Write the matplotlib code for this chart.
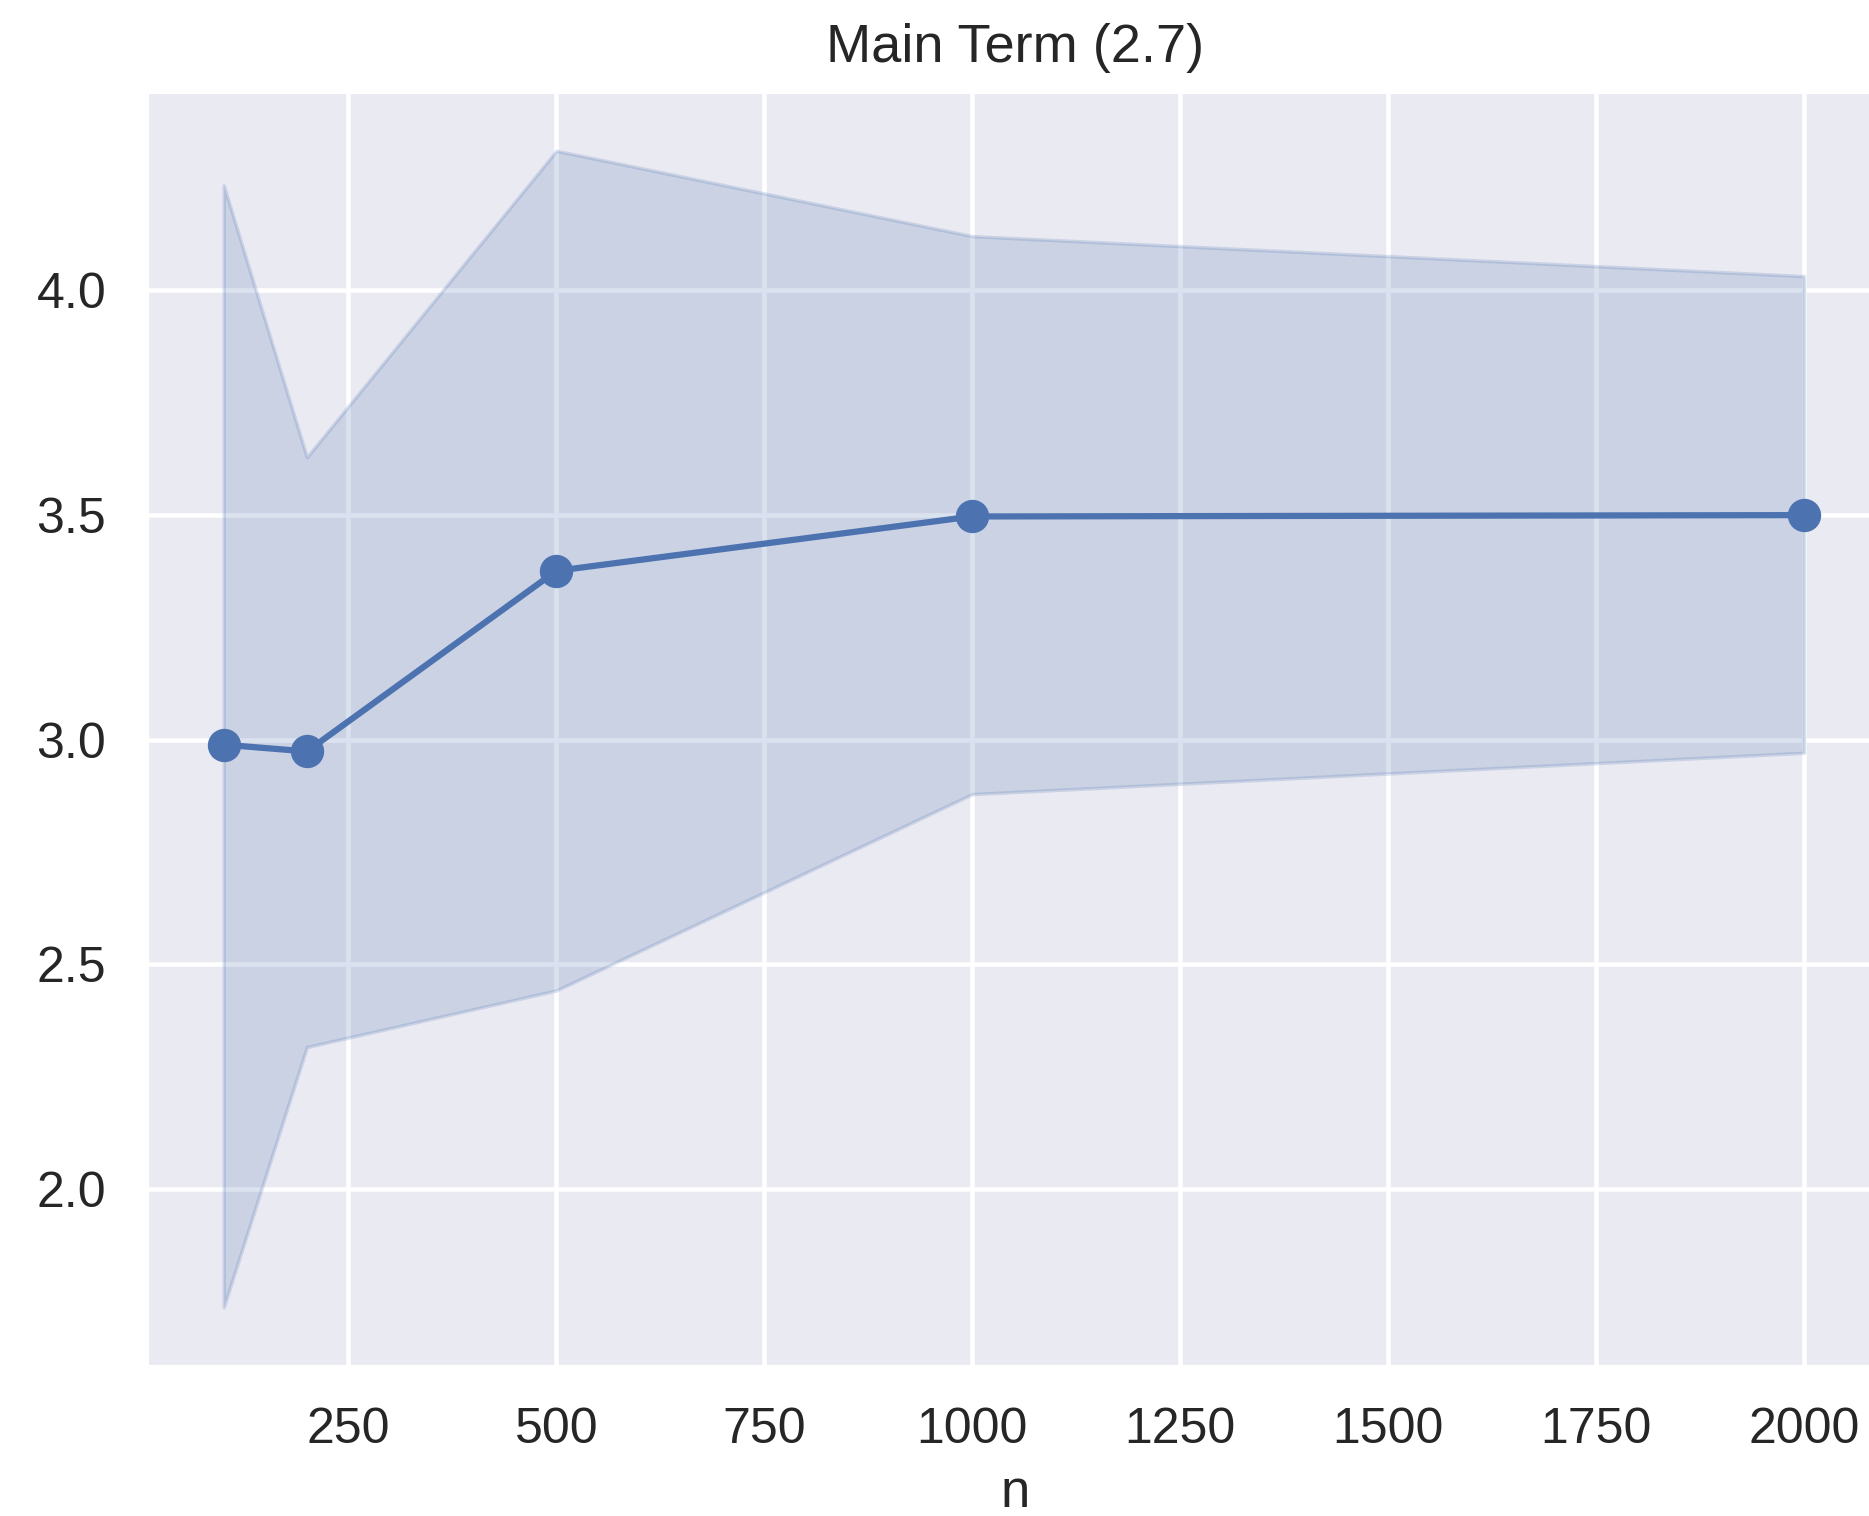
import numpy as np
import matplotlib
matplotlib.use("Agg")
import matplotlib.pyplot as plt
import seaborn as sns

# sample sizes and main-term estimates
n_values = [100, 200, 500, 1000, 2000]
mean_est = [2.989, 2.974, 3.376, 3.497, 3.500]
upper_est = [4.234, 3.629, 4.311, 4.121, 4.032]
lower_est = [1.737, 2.316, 2.442, 2.879, 2.971]

sns.set_style("darkgrid")
plt.rcParams['font.family'] = ['Liberation Sans', 'DejaVu Sans']
plt.rcParams['text.color'] = '.15'
plt.rcParams['axes.labelcolor'] = '.15'
plt.rcParams['xtick.color'] = '.15'
plt.rcParams['ytick.color'] = '.15'

fig = plt.figure(figsize=(18.69, 15.16), dpi=100)
ax = fig.add_axes([0.0792, 0.0996, 0.9283, 0.8391])

blue = "#4C72B0"
ax.fill_between(n_values, lower_est, upper_est, color=blue, alpha=0.2, linewidth=2.5)
ax.plot(n_values, mean_est, color=blue, linewidth=4.5, marker='o', markersize=23)

ax.set_xlim(9, 2095)
ax.set_yticks([2.0, 2.5, 3.0, 3.5, 4.0])
ax.set_xticks([250, 500, 750, 1000, 1250, 1500, 1750, 2000])
ax.grid(True, color='white', linewidth=3.3)
ax.tick_params(labelsize=36, pad=30, length=0)
ax.set_xlabel("n", fontsize=38, labelpad=11)
ax.set_title("Main Term (2.7)", fontsize=39, pad=22)

fig.savefig("out.png", dpi=100)
